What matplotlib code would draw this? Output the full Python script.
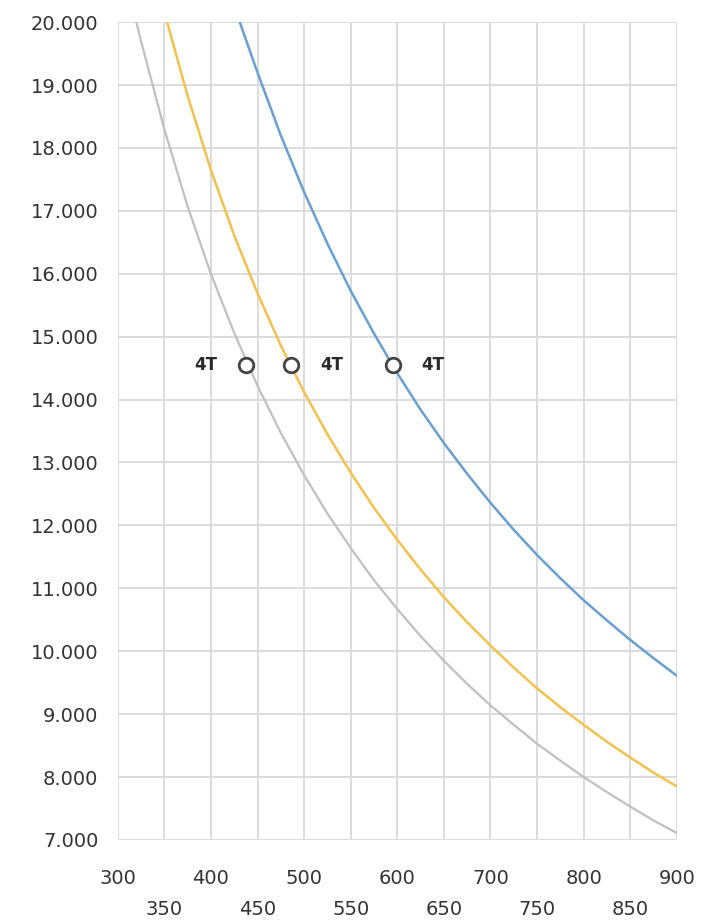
import matplotlib.pyplot as plt
from matplotlib.ticker import FuncFormatter

# values
gray_x = [320, 325, 350, 375, 400, 425, 450, 475, 500, 525, 550, 575, 600,
          625, 650, 675, 700, 725, 750, 775, 800, 825, 850, 875, 900]
gray_y = [20000, 19700, 18300, 17070, 16000, 15060, 14220, 13470, 12800,
          12190, 11640, 11130, 10670, 10240, 9850, 9480, 9140, 8830, 8530,
          8260, 8000, 7760, 7530, 7310, 7110]

yellow_x = [353, 375, 400, 425, 450, 475, 500, 525, 550, 575, 600, 625, 650,
            675, 700, 725, 750, 775, 800, 825, 850, 875, 900]
yellow_y = [20000, 18830, 17650, 16610, 15690, 14860, 14120, 13450, 12840,
            12280, 11770, 11300, 10860, 10460, 10090, 9740, 9410, 9110, 8830,
            8560, 8310, 8070, 7850]

blue_x = [431, 450, 475, 500, 525, 550, 575, 600, 625, 650, 675, 700, 725,
          750, 775, 800, 825, 850, 875, 900]
blue_y = [20000, 19200, 18200, 17300, 16480, 15730, 15050, 14420, 13840,
          13310, 12820, 12360, 11930, 11530, 11160, 10810, 10490, 10180,
          9890, 9610]

# 4T operating points
mark_x = [438, 486, 595]
mark_y = [14550, 14550, 14550]
mark_text = ["4T", "4T", "4T"]
mark_side = [-1, 1, 1]

x_ticks = list(range(300, 901, 50))
y_ticks = list(range(7000, 20001, 1000))

fig = plt.figure(figsize=(7.05, 9.24), dpi=100)
ax = fig.add_axes([0.167, 0.091, 0.793, 0.885])

ax.plot(gray_x, gray_y, color="#c0c0c0", lw=1.6, zorder=3)
ax.plot(yellow_x, yellow_y, color="#f2c14e", lw=1.8, zorder=3)
ax.plot(blue_x, blue_y, color="#6a9fd0", lw=1.8, zorder=3)

ax.scatter(mark_x, mark_y, s=110, facecolor="white", edgecolor="#444444",
           linewidth=2, zorder=5)
for x, y, t, side in zip(mark_x, mark_y, mark_text, mark_side):
    ax.annotate(t, (x, y), xytext=(side * 29, 0), textcoords="offset points",
                ha="center", va="center", fontsize=12, fontweight="bold",
                color="#2a2a2a")

ax.set_xlim(300, 900)
ax.set_ylim(7000, 20000)
ax.set_xticks(x_ticks)
ax.set_xticklabels([str(v) if i % 2 == 0 else "\n" + str(v)
                    for i, v in enumerate(x_ticks)])
for lbl in ax.get_xticklabels():
    lbl.set_linespacing(1.8)
ax.set_yticks(y_ticks)
ax.yaxis.set_major_formatter(FuncFormatter(lambda v, p: f"{int(v):,}".replace(",", ".")))

ax.grid(True, color="#dcdcdc", lw=1.4)
ax.set_axisbelow(True)
for s in ax.spines.values():
    s.set_visible(False)
ax.tick_params(axis="both", length=0, labelsize=14, colors="#333333")
ax.tick_params(axis="y", pad=14)
ax.tick_params(axis="x", pad=21)

fig.savefig("out.png", dpi=100)
